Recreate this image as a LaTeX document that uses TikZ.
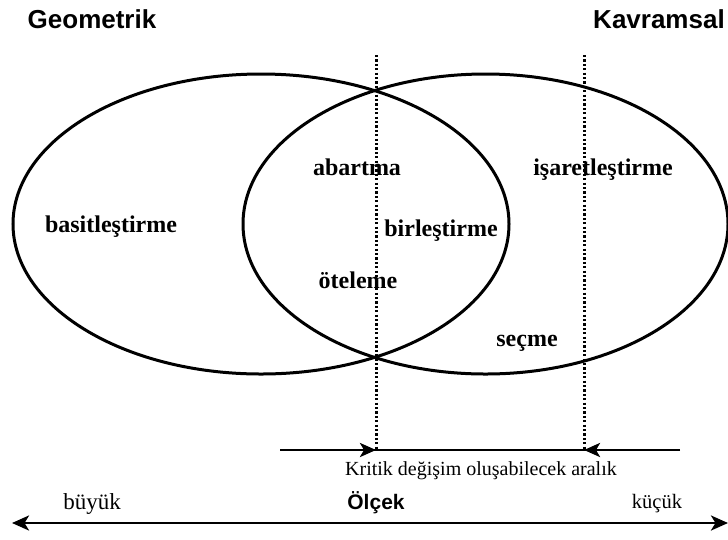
\documentclass[tikz,border=0pt]{standalone}
\usepackage{fontspec}
\setmainfont{Liberation Serif}
\newfontfamily\arialf{Liberation Sans}
\usetikzlibrary{arrows.meta}
\tikzset{
  lbl/.style={anchor=base, inner sep=0pt, font=\bfseries\fontsize{24}{28}\selectfont},
  hdr/.style={anchor=base, inner sep=0pt, font=\arialf\bfseries\fontsize{26}{30}\selectfont},
  plain/.style={anchor=base, inner sep=0pt},
  oval/.style={draw=black, line width=3pt},
  dots/.style={line width=3pt, dash pattern=on 2.2pt off 2.2pt},
  axis/.style={line width=2.8pt},
  tip/.style={-{Stealth[length=16pt,width=14pt,inset=4pt]}},
  bothtip/.style={{Stealth[length=17pt,width=15pt,inset=4.5pt]}-{Stealth[length=17pt,width=15pt,inset=4.5pt]}}
}
\begin{document}
\begin{tikzpicture}[x=1pt,y=-1pt]
\useasboundingbox (0,0) rectangle (728,539);
% ellipses
\draw[oval] (261,224) ellipse [x radius=248, y radius=150];
\draw[oval] (485.5,224) ellipse [x radius=242.5, y radius=150];
% coordinates
\coordinate (d1top) at (376,55);
\coordinate (d2top) at (584,55);
\coordinate (a1) at (376,450);
\coordinate (a2) at (584,450);
\coordinate (l1) at (280,450);
\coordinate (r1) at (680,450);
\coordinate (bl) at (12,523);
\coordinate (br) at (728,523);
% dotted lines
\draw[dots] (d1top) -- (a1);
\draw[dots] (d2top) -- (a2);
% range arrows
\draw[axis] (l1) -- (r1);
\draw[axis,tip] (l1) -- (a1);
\draw[axis,tip] (r1) -- (a2);
% scale arrow
\draw[axis,bothtip] (bl) -- (br);
% headers
\node[hdr] (geo) at (92,28) {Geometrik};
\node[hdr] (kav) at (659,28) {Kavramsal};
% labels
\node[lbl] (basit) at (111,232) {basitleştirme};
\node[lbl] (abart) at (357,175) {abartma};
\node[lbl] (birl) at (441,236) {birleştirme};
\node[lbl] (otel) at (358,288) {öteleme};
\node[lbl] (isar) at (603,175) {işaretleştirme};
\node[lbl] (secme) at (527,346) {seçme};
\node[plain, font=\fontsize{20}{24}\selectfont] (krit) at (481,475) {Kritik değişim oluşabilecek aralık};
\node[plain, font=\arialf\bfseries\fontsize{21}{25}\selectfont] (olcek) at (376,509) {Ölçek};
\node[plain, font=\fontsize{20.5}{24}\selectfont] (kucuk) at (657,508) {küçük};
\node[plain, font=\fontsize{23}{27}\selectfont] (buyuk) at (92,509) {büyük};
\end{tikzpicture}
\end{document}
